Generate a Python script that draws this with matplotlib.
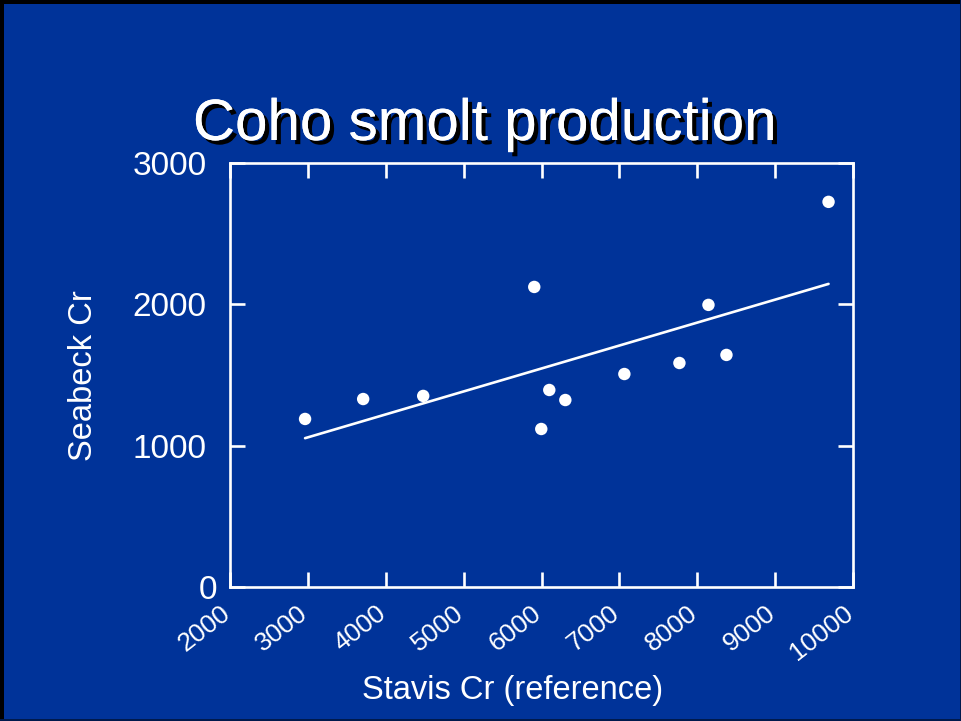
import numpy as np
import matplotlib
matplotlib.use("Agg")
import matplotlib.pyplot as plt
import matplotlib.patheffects as pe
import matplotlib.transforms as mtransforms
from matplotlib.patches import Rectangle

# Data
stavis = [2964, 3710, 4481, 5907, 5997, 6100, 6306, 7064, 7771, 8144, 8375, 9686]
seabeck = [1189, 1330, 1352, 2123, 1118, 1394, 1323, 1507, 1585, 1996, 1642, 2725]
x_ticks = [2000, 3000, 4000, 5000, 6000, 7000, 8000, 9000, 10000]
y_ticks = [0, 1000, 2000, 3000]

BG = "#003399"
W, H = 961, 721
fig = plt.figure(figsize=(W / 100, H / 100), dpi=100, facecolor=BG)

# dark border on the slide edges
fig.patches.append(Rectangle((0, 1 - 4 / H), 1, 4 / H, transform=fig.transFigure,
                             facecolor="black", edgecolor="none", zorder=0))
fig.patches.append(Rectangle((0, 0), 4 / W, 1, transform=fig.transFigure,
                             facecolor="black", edgecolor="none", zorder=0))
fig.patches.append(Rectangle((0, 0), 1, 2 / H, transform=fig.transFigure,
                             facecolor="#001a4d", edgecolor="none", zorder=0))
fig.patches.append(Rectangle((1 - 1.5 / W, 0), 1.5 / W, 1, transform=fig.transFigure,
                             facecolor="#001a4d", edgecolor="none", zorder=0))

ax = fig.add_axes([230 / W, 1 - 587 / H, (853 - 230) / W, (587 - 163) / H])
ax.set_facecolor(BG)

ax.scatter(stavis, seabeck, s=80, color="white", edgecolor="none", zorder=3, clip_on=False)

coef = np.polyfit(stavis, seabeck, 1)
xs = np.array([min(stavis), max(stavis)])
ax.plot(xs, np.polyval(coef, xs), color="white", lw=1.9, zorder=2,
        solid_capstyle="round")

ax.set_xlim(2000, 10000)
ax.set_ylim(0, 3000)
ax.set_xticks(x_ticks)
ax.set_yticks(y_ticks)

for s in ax.spines.values():
    s.set_color("white")
    s.set_linewidth(1.9)

ax.tick_params(axis="both", which="both", direction="in", length=10.5, width=1.9,
               colors="white", top=True, right=True)
ax.tick_params(axis="y", pad=17, labelsize=24)
ax.set_yticklabels([str(v) for v in y_ticks], family="Liberation Sans", fontsize=24)
ax.set_xticklabels([str(v) for v in x_ticks], rotation=38, ha="right", va="top",
                   rotation_mode="anchor", fontsize=19, family="Liberation Sans")
ax.tick_params(axis="x", pad=10)

# shift rotated x labels so their right end sits at the tick
dx = mtransforms.ScaledTranslation(-10 / 100, 0, fig.dpi_scale_trans)
for lbl in ax.get_xticklabels():
    lbl.set_transform(lbl.get_transform() + dx)
# the "0" label sits closer to the axis in the original
d0 = mtransforms.ScaledTranslation(11 / 100, 0, fig.dpi_scale_trans)
ylbls = ax.get_yticklabels()
ylbls[0].set_transform(ylbls[0].get_transform() + d0)

fig.text(84 / W, 1 - 376 / H, "Seabeck Cr", rotation=90, color="white", fontsize=23.5,
         family="Liberation Sans", ha="center", va="center")
fig.text(513 / W, 1 - 690 / H, "Stavis Cr (reference)", color="white", fontsize=23.5,
         family="Liberation Sans", ha="center", va="center")

fig.text(485 / W, 1 - 140 / H, "Coho smolt production", color="white", fontsize=42,
         family="Liberation Sans", ha="center", va="baseline",
         path_effects=[pe.withSimplePatchShadow(offset=(3, -3), shadow_rgbFace="black", alpha=1.0),
                       pe.Normal()])

fig.savefig("out.png", dpi=100, facecolor=BG)
